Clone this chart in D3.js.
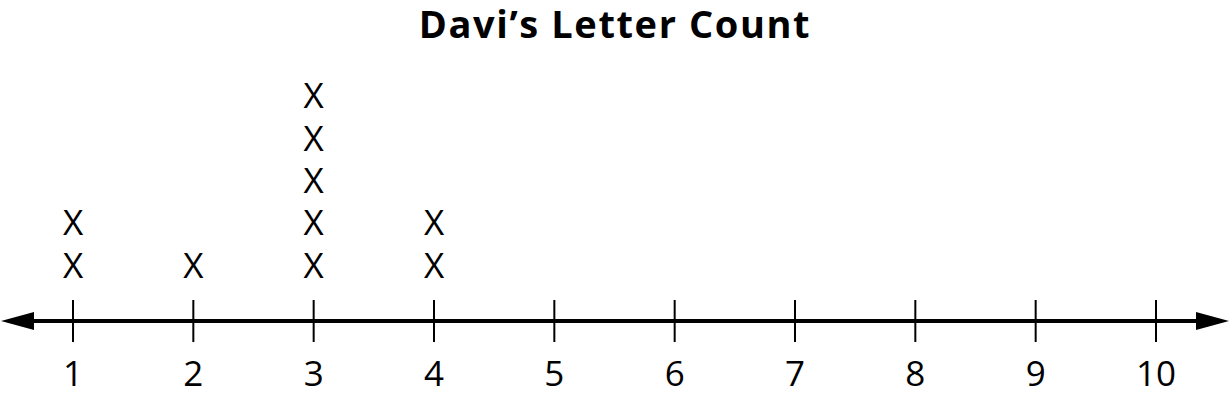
<!DOCTYPE html>
<html><head><meta charset="utf-8">
<script src="https://cdn.jsdelivr.net/npm/d3@7"></script>
<style>html,body{margin:0;padding:0;background:#fff}svg{display:block}</style>
</head><body>
<svg id="c" width="1230" height="401"></svg>
<script>
const title = "Davi’s Letter Count";
const tickValues = [1,2,3,4,5,6,7,8,9,10];
const dataValues = [1,2,3,4];
const dataCounts = [2,1,5,2];

const svg = d3.select("#c");
const font = "'Open Sans', sans-serif";
const x = d3.scaleLinear().domain([1,10]).range([73,1156]);
const axisY = 321;
const y = d3.scaleLinear().domain([0,1]).range([axisY-43.5, axisY-43.5-42.3]);

svg.append("text").attr("x",615).attr("y",38).attr("text-anchor","middle")
  .attr("font-family",font).attr("font-weight",700).attr("font-size",38)
  .attr("letter-spacing",1.6).attr("fill","#000").text(title);

// axis line
svg.append("line").attr("x1",20).attr("x2",1205).attr("y1",axisY).attr("y2",axisY)
  .attr("stroke","#000").attr("stroke-width",4);
svg.append("path").attr("d",`M1,${axisY} L34,${axisY-9} L34,${axisY+9} Z`).attr("fill","#000");
svg.append("path").attr("d",`M1229,${axisY} L1196,${axisY-9} L1196,${axisY+9} Z`).attr("fill","#000");

// ticks
svg.selectAll(".tk").data(tickValues).enter().append("line")
  .attr("x1",d=>x(d)).attr("x2",d=>x(d)).attr("y1",axisY-21).attr("y2",axisY+21)
  .attr("stroke","#000").attr("stroke-width",2);
svg.selectAll(".tl").data(tickValues).enter().append("text")
  .attr("x",d=>x(d)).attr("y",386).attr("text-anchor","middle")
  .attr("font-family",font).attr("font-size",35).attr("fill","#000").text(d=>d);

// X marks
const pts = [];
dataValues.forEach((v,i)=>{ for(let k=0;k<dataCounts[i];k++) pts.push({v,k}); });
svg.selectAll(".xm").data(pts).enter().append("text")
  .attr("x",d=>x(d.v)).attr("y",d=>y(d.k)).attr("text-anchor","middle")
  .attr("font-family",font).attr("font-size",35).attr("fill","#000").text("X");
</script>
</body></html>
